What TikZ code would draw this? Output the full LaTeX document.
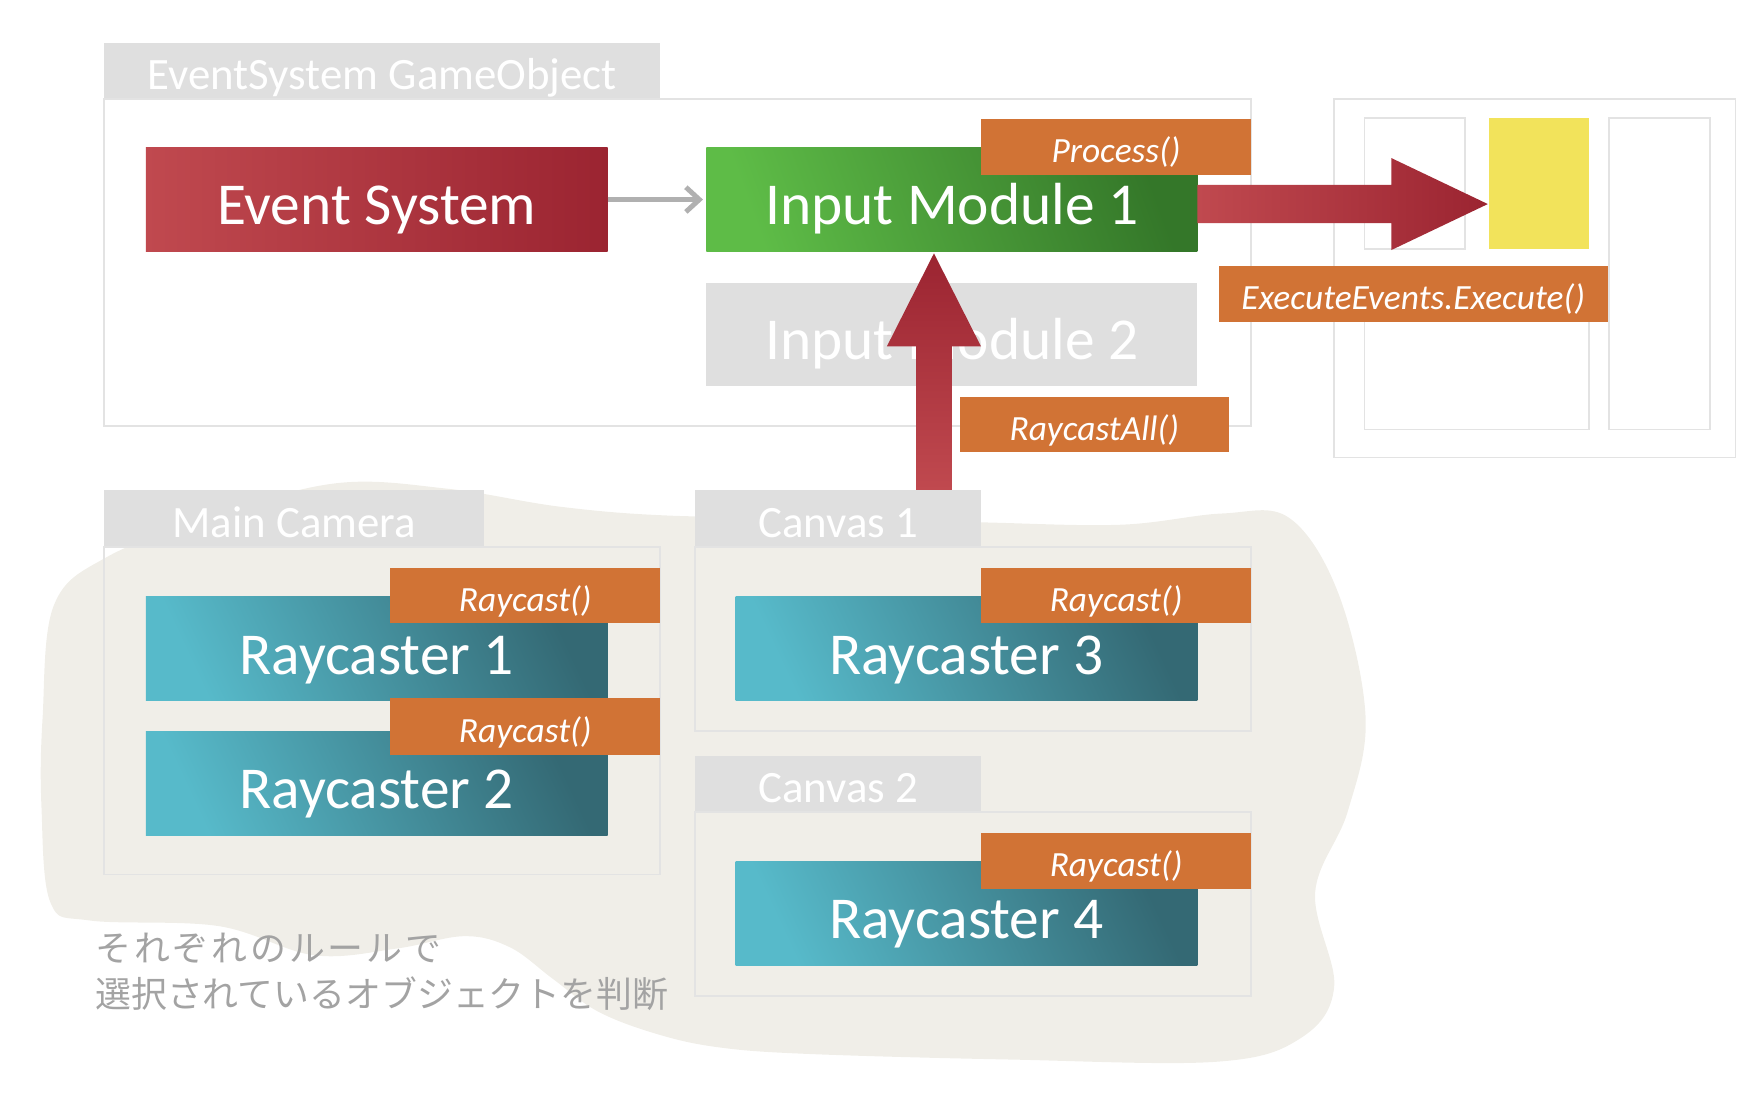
\documentclass[tikz,border=0pt]{standalone}
\usepackage{fontspec}
\setmainfont{Carlito}
\newfontfamily\jpfont{Noto Sans CJK JP}
\usetikzlibrary{calc,arrows.meta}
\definecolor{redL}{HTML}{C0494F}
\definecolor{redD}{HTML}{9B2431}
\definecolor{grnL}{HTML}{5EBC47}
\definecolor{grnD}{HTML}{347729}
\definecolor{tealL}{HTML}{57BACA}
\definecolor{tealD}{HTML}{346974}
\definecolor{orng}{HTML}{D17335}
\definecolor{tabgray}{HTML}{DFDFDF}
\definecolor{boxline}{HTML}{E3E3E3}
\definecolor{blobc}{HTML}{F0EEE8}
\definecolor{ylw}{HTML}{F2E35B}
\definecolor{arrgray}{HTML}{B0B0B0}
\definecolor{jpgray}{HTML}{A3A3A3}
\begin{document}
\begin{tikzpicture}[x=0.5pt,y=-0.5pt,
  every node/.style={inner sep=0pt, outer sep=0pt, anchor=north west, text=white},
  frame/.style={draw=boxline, line width=0.8pt},
  tabbox/.style={fill=tabgray, font=\fontsize{20}{24}\selectfont, text height=17pt, text depth=0pt},
  bigtxt/.style={font=\fontsize{26.5}{30}\selectfont, text height=22.5pt, text depth=0pt, minimum width=206pt, minimum height=46pt},
  redbox/.style={bigtxt, left color=redL, right color=redD},
  grnbox/.style={bigtxt, minimum width=219pt, left color=grnL, right color=grnD, shading angle=110},
  graybox/.style={bigtxt, minimum width=219pt, fill=tabgray},
  raybox/.style={bigtxt, minimum height=46.5pt, text height=23pt, left color=tealL, right color=tealD, shading angle=115},
  tagbox/.style={fill=orng, font=\fontsize{15.8}{19}\selectfont\itshape, text height=14pt, text depth=0pt, minimum width=120.5pt, minimum height=25pt}
]
\useasboundingbox (0,0) rectangle (1568,978);

% background blob
\fill[blobc] plot[smooth cycle, tension=0.6] coordinates {
 (38,640) (48,540) (95,497) (190,460) (300,431) (400,436) (500,452) (600,460)
 (750,462) (880,466) (1000,468) (1090,458) (1150,462) (1194,530) (1218,640)
 (1202,724) (1173,796) (1190,880) (1160,926) (1085,947) (900,945)
 (720,940) (640,934) (585,922) (533,902) (493,873) (455,845) (414,835)
 (354,846) (280,852) (195,826) (80,821) (45,805) (37,720)};

% ---------- EventSystem GameObject ----------
\node[tabbox, minimum width=248pt, minimum height=25pt] (tabES) at (93,38) {EventSystem GameObject};
\node[frame, fill=white, minimum width=511.5pt, minimum height=146pt] (esgo) at (93,88) {};
\node[redbox] (es) at (130,132) {Event System};
\node[grnbox] (im1) at (630,132) {Input Module 1};
\node[tagbox] (tproc) at (875,106) {Process()};
\node[graybox] (im2) at (630,252) {Input Module 2};

\draw[arrgray, line width=2.2pt, shorten >=1.5pt, -{Straight Barb[length=6pt,width=11pt]}] (es.east) -- (im1.west);

% ---------- right panel ----------
\node[frame, fill=white, minimum width=179pt, minimum height=160pt] (rp) at (1190,88) {};
\node[frame, minimum width=45pt, minimum height=58.5pt] (rpa) at (1217,105) {};
\node[fill=ylw, minimum width=44.5pt, minimum height=58.5pt] (rpy) at (1328,105) {};
\node[frame, minimum width=45pt, minimum height=139pt] (rpc) at (1435,105) {};
\node[frame, minimum width=100pt, minimum height=71.5pt] (rpd) at (1217,240) {};

% ---------- Main Camera ----------
\node[tabbox, minimum width=169.5pt, minimum height=25.5pt] (tabMC) at (93,437) {Main Camera};
\node[frame, minimum width=248pt, minimum height=146pt] (mc) at (93,488) {};
\node[raybox] (rc1) at (130,532) {Raycaster 1};
\node[tagbox, minimum height=24.5pt] (tg1) at (348,507) {Raycast()};
\node[raybox] (rc2) at (130,652) {Raycaster 2};
\node[tagbox] (tg2) at (348,623) {Raycast()};

% ---------- Canvas 1 ----------
\node[tabbox, minimum width=127.5pt, minimum height=25.5pt] (tabC1) at (620,437) {Canvas 1};
\node[frame, minimum width=248pt, minimum height=82pt] (c1) at (620,488) {};
\node[raybox] (rc3) at (656,532) {Raycaster 3};
\node[tagbox, minimum height=24.5pt] (tg3) at (875,507) {Raycast()};

% ---------- Canvas 2 ----------
\node[tabbox, minimum width=127.5pt, minimum height=25pt] (tabC2) at (620,674) {Canvas 2};
\node[frame, minimum width=248pt, minimum height=82pt] (c2) at (620,724) {};
\node[raybox] (rc4) at (656,768) {Raycaster 4};
\node[tagbox] (tg4) at (875,743) {Raycast()};

% ---------- big arrows ----------
\coordinate (ua) at (833,437);
\coordinate (ub) at (833,226);
\shade[top color=redD, bottom color=redL]
  ($(ua)+(-16,0)$) -- ($(ub)+(-16,83)$) -- ($(ub)+(-42,83)$) -- (ub)
  -- ($(ub)+(42,83)$) -- ($(ub)+(16,83)$) -- ($(ua)+(16,0)$) -- cycle;
\node[tagbox, minimum width=120pt, minimum height=24.5pt] (tra) at (856,354) {RaycastAll()};

\coordinate (ra) at (1068,182);
\coordinate (rb) at (1327,182);
\shade[left color=redL, right color=redD]
  ($(ra)+(0,-17)$) -- ($(rb)+(-86,-17)$) -- ($(rb)+(-86,-41)$) -- (rb)
  -- ($(rb)+(-86,41)$) -- ($(rb)+(-86,17)$) -- ($(ra)+(0,17)$) -- cycle;
\node[tagbox, minimum width=173.5pt] (tex) at (1087,237) {ExecuteEvents.Execute()};

% ---------- note ----------
\node[anchor=base west, text=jpgray, font=\jpfont\fontsize{16}{20.5}\selectfont, align=left] (note) at (85,899)
  {{\addfontfeatures{LetterSpace=8}それぞれのルールで}\\選択されているオブジェクトを判断};
\end{tikzpicture}
\end{document}
